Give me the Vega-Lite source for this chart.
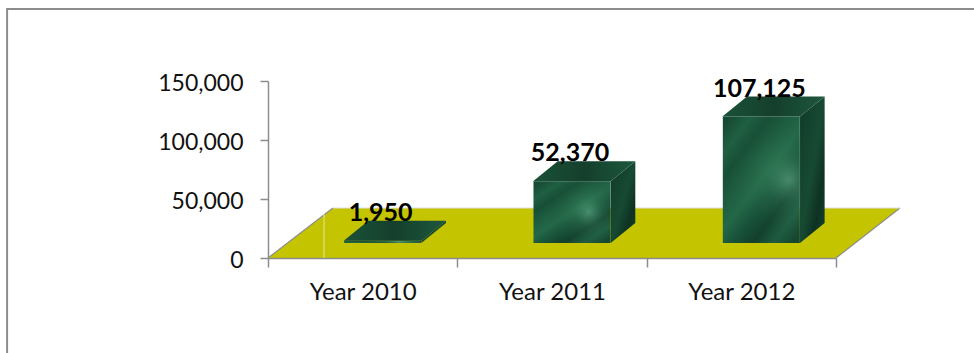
{
  "$schema": "https://vega.github.io/schema/vega-lite/v6.json",
  "width": 568,
  "height": 177,
  "autosize": {"type": "none"},
  "padding": {"left": 268, "top": 81, "right": 138, "bottom": 95},
  "background": "white",
  "config": {"view": {"stroke": null}, "numberFormat": ","},
  "datasets": {
    "years": [
      {"year": "Year 2010", "value": 1950},
      {"year": "Year 2011", "value": 52370},
      {"year": "Year 2012", "value": 107125}
    ],
    "frame": [{"left": -1.378, "right": 3.8, "low": -90000, "high": 211000}],
    "floor": [
      {"pos": 0, "back": 0, "front": 0},
      {"pos": 0.343, "back": 42373, "front": 0},
      {"pos": 3.0, "back": 42373, "front": 0},
      {"pos": 3.338, "back": 42373, "front": 42373}
    ],
    "floorEdges": [
      {"edge": "left", "pos": 0, "level": 0},
      {"edge": "left", "pos": 0.343, "level": 42373},
      {"edge": "right", "pos": 3.0, "level": 0},
      {"edge": "right", "pos": 3.338, "level": 42373}
    ],
    "floorBack": [
      {"pos": 0.343, "level": 42373},
      {"pos": 3.338, "level": 42373}
    ],
    "wall": [{"pos": 0.296, "low": 0, "high": 37300}],
    "sides": [
      {"year": "Year 2010", "pos": 0.81, "top": 1950, "bottom": 0},
      {"year": "Year 2010", "pos": 0.94, "top": 18950, "bottom": 17000},
      {"year": "Year 2011", "pos": 1.81, "top": 52370, "bottom": 0},
      {"year": "Year 2011", "pos": 1.94, "top": 69370, "bottom": 17000},
      {"year": "Year 2012", "pos": 2.81, "top": 107125, "bottom": 0},
      {"year": "Year 2012", "pos": 2.94, "top": 124125, "bottom": 17000}
    ],
    "tops": [
      {"year": "Year 2010", "pos": 0.4, "far": 1950, "near": 1950},
      {"year": "Year 2010", "pos": 0.53, "far": 18950, "near": 1950},
      {"year": "Year 2010", "pos": 0.81, "far": 18950, "near": 1950},
      {"year": "Year 2010", "pos": 0.94, "far": 18950, "near": 18950},
      {"year": "Year 2011", "pos": 1.4, "far": 52370, "near": 52370},
      {"year": "Year 2011", "pos": 1.53, "far": 69370, "near": 52370},
      {"year": "Year 2011", "pos": 1.81, "far": 69370, "near": 52370},
      {"year": "Year 2011", "pos": 1.94, "far": 69370, "near": 69370},
      {"year": "Year 2012", "pos": 2.4, "far": 107125, "near": 107125},
      {"year": "Year 2012", "pos": 2.53, "far": 124125, "near": 107125},
      {"year": "Year 2012", "pos": 2.81, "far": 124125, "near": 107125},
      {"year": "Year 2012", "pos": 2.94, "far": 124125, "near": 124125}
    ]
  },
  "resolve": {"scale": {"x": "independent"}, "axis": {"x": "independent"}},
  "layer": [
    {
      "description": "Chart border, running off the right and bottom of the canvas",
      "data": {"name": "frame"},
      "mark": {"type": "rect", "fill": null, "stroke": "#8c8c8c", "strokeWidth": 2, "clip": false},
      "encoding": {
        "x": {"field": "left", "type": "quantitative", "scale": {"domain": [0, 3], "nice": false}, "axis": null},
        "x2": {"field": "right"},
        "y": {"field": "low", "type": "quantitative", "scale": {"domain": [0, 150000], "nice": false},
          "axis": {"values": [0, 50000, 100000, 150000], "labelExpr": "format(datum.value, ',')", "title": null, "grid": false, "zindex": 1,
            "domainColor": "#8c8c8c", "tickColor": "#8c8c8c", "tickSize": 8, "labelFont": "Lato", "labelFontSize": 23,
            "labelColor": "#111111", "labelPadding": 17, "labelOffset": 2, "domainWidth": 1.5, "tickWidth": 1.5}},
        "y2": {"field": "high"}
      }
    },
    {
      "description": "Floor of the 3D plot",
      "data": {"name": "floor"},
      "mark": {"type": "area", "fill": "#c4c400", "stroke": null, "interpolate": "linear"},
      "encoding": {
        "x": {"field": "pos", "type": "quantitative", "scale": {"domain": [0, 3], "nice": false}, "axis": null},
        "y": {"field": "back", "type": "quantitative"},
        "y2": {"field": "front"}
      }
    },
    {
      "description": "Slanted floor edges",
      "data": {"name": "floorEdges"},
      "mark": {"type": "line", "color": "#8c8c8c", "strokeWidth": 1.2},
      "encoding": {
        "detail": {"field": "edge"},
        "x": {"field": "pos", "type": "quantitative", "scale": {"domain": [0, 3], "nice": false}, "axis": null},
        "y": {"field": "level", "type": "quantitative"}
      }
    },
    {
      "description": "Pale back edge of the floor",
      "data": {"name": "floorBack"},
      "mark": {"type": "line", "color": "#dddddd", "strokeWidth": 1.2},
      "encoding": {
        "x": {"field": "pos", "type": "quantitative", "scale": {"domain": [0, 3], "nice": false}, "axis": null},
        "y": {"field": "level", "type": "quantitative"}
      }
    },
    {
      "description": "Pale corner line where the wall meets the floor",
      "data": {"name": "wall"},
      "mark": {"type": "rule", "color": "#e6e6b0", "strokeWidth": 1},
      "encoding": {
        "x": {"field": "pos", "type": "quantitative", "scale": {"domain": [0, 3], "nice": false}, "axis": null},
        "y": {"field": "low", "type": "quantitative"},
        "y2": {"field": "high"}
      }
    },
    {
      "description": "Front faces of the boxes, with the category axis ticked on band edges",
      "data": {"name": "years"},
      "mark": {"type": "bar", "size": 77, "xOffset": 20, "yOffset": -15, "y2Offset": -15,
        "fill": {"gradient": "linear", "x1": 0.1, "y1": 0, "x2": 0.9, "y2": 1,
          "stops": [
            {"offset": 0, "color": "#164b33"}, {"offset": 0.13, "color": "#1f5f42"}, {"offset": 0.25, "color": "#174f36"},
            {"offset": 0.37, "color": "#1e5c40"}, {"offset": 0.5, "color": "#236848"}, {"offset": 0.62, "color": "#18523a"},
            {"offset": 0.75, "color": "#123f2c"}, {"offset": 0.88, "color": "#1e5b40"}, {"offset": 1, "color": "#154631"}
          ]}},
      "encoding": {
        "x": {"field": "year", "type": "nominal", "sort": null, "scale": {"paddingInner": 0, "paddingOuter": 0},
          "axis": {"title": null, "orient": "bottom", "labelAngle": 0, "tickBand": "extent", "tickSize": 9, "zindex": 1, "domainColor": "#8c8c8c",
            "tickColor": "#8c8c8c", "labelFont": "Lato", "labelFontSize": 24, "labelColor": "#111111", "labelPadding": 13,
            "domainWidth": 1.5, "tickWidth": 1.5}},
        "y": {"field": "value", "type": "quantitative"},
        "y2": {"datum": 0}
      }
    },
    {
      "description": "Pale vein in the marble of the front faces",
      "data": {"name": "years"},
      "mark": {"type": "bar", "size": 77, "xOffset": 20, "yOffset": -15, "y2Offset": -15,
        "fill": {"gradient": "radial", "x1": 0.72, "y1": 0.5, "r1": 0, "x2": 0.72, "y2": 0.5, "r2": 0.55,
          "stops": [
            {"offset": 0, "color": "rgba(120,200,160,0.5)"}, {"offset": 0.35, "color": "rgba(70,150,110,0.22)"},
            {"offset": 1, "color": "rgba(20,70,45,0)"}
          ]}},
      "encoding": {
        "x": {"field": "year", "type": "nominal", "sort": null, "scale": {"paddingInner": 0, "paddingOuter": 0}, "axis": null},
        "y": {"field": "value", "type": "quantitative"},
        "y2": {"datum": 0}
      }
    },
    {
      "description": "Right-hand faces of the boxes",
      "data": {"name": "sides"},
      "mark": {"type": "area", "yOffset": -15, "y2Offset": -15,
        "fill": {"gradient": "linear", "x1": 0, "y1": 0, "x2": 1, "y2": 1,
          "stops": [{"offset": 0, "color": "#103a28"}, {"offset": 0.5, "color": "#174a33"}, {"offset": 0.75, "color": "#0e3222"}, {"offset": 1, "color": "#14432e"}]}},
      "encoding": {
        "detail": {"field": "year"},
        "x": {"field": "pos", "type": "quantitative", "scale": {"domain": [0, 3], "nice": false}, "axis": null},
        "y": {"field": "top", "type": "quantitative"},
        "y2": {"field": "bottom"}
      }
    },
    {
      "description": "Top faces of the boxes",
      "data": {"name": "tops"},
      "mark": {"type": "area", "yOffset": -15, "y2Offset": -15,
        "fill": {"gradient": "linear", "x1": 0, "y1": 0, "x2": 1, "y2": 0,
          "stops": [{"offset": 0, "color": "#1a5238"}, {"offset": 0.5, "color": "#143f2c"}, {"offset": 1, "color": "#1d583d"}]}},
      "encoding": {
        "detail": {"field": "year"},
        "x": {"field": "pos", "type": "quantitative", "scale": {"domain": [0, 3], "nice": false}, "axis": null},
        "y": {"field": "far", "type": "quantitative"},
        "y2": {"field": "near"}
      }
    },
    {
      "description": "Value labels above each box",
      "data": {"name": "years"},
      "mark": {"type": "text", "font": "Lato", "fontWeight": "bold", "fontSize": 25, "color": "#000000", "yOffset": -43, "xOffset": 18},
      "encoding": {
        "x": {"field": "year", "type": "nominal", "sort": null, "scale": {"paddingInner": 0, "paddingOuter": 0}, "axis": null},
        "y": {"field": "value", "type": "quantitative"},
        "text": {"field": "value", "type": "quantitative", "format": ","}
      }
    }
  ]
}
